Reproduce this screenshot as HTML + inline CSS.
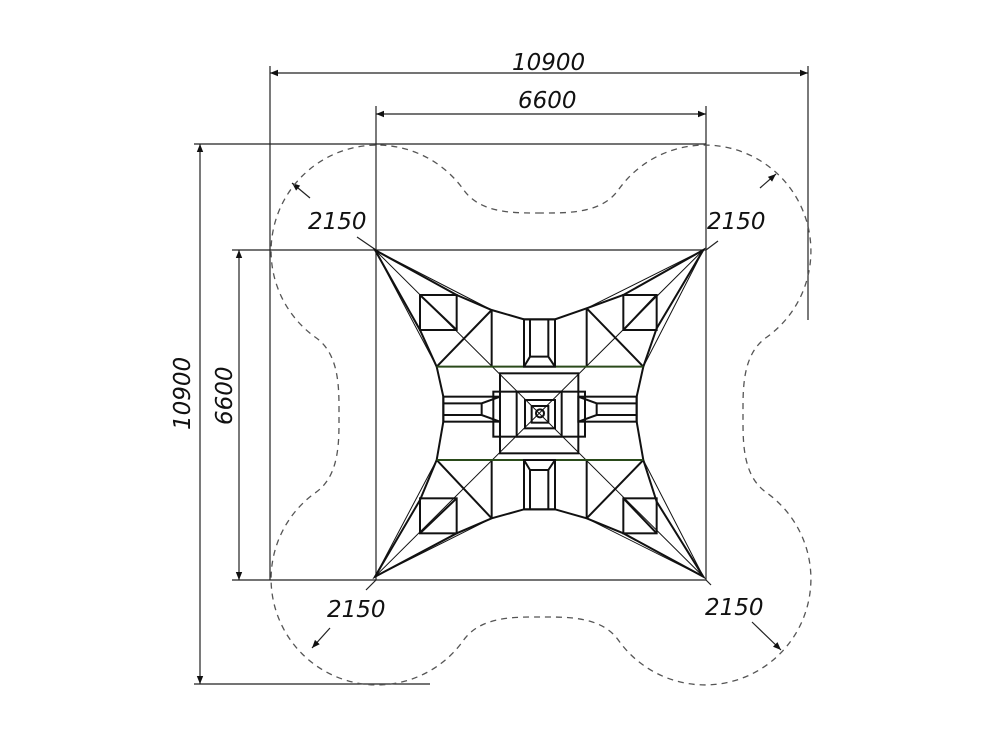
<!DOCTYPE html>
<html><head><meta charset="utf-8"><style>
html,body{margin:0;padding:0;background:#fff}
svg{display:block}
text{font-family:"DejaVu Sans","Liberation Sans",sans-serif;font-style:italic;font-size:23px;fill:#111}
</style></head><body>
<svg width="1000" height="750" viewBox="0 0 1000 750" xmlns="http://www.w3.org/2000/svg">
<defs>
<marker id="a" viewBox="0 0 10 10" refX="10" refY="5" markerWidth="12" markerHeight="8" orient="auto-start-reverse" markerUnits="userSpaceOnUse">
<path d="M0,1 L10,5 L0,9 Z" fill="#111"/></marker>
</defs>
<g stroke="#222" stroke-width="1.2" fill="none">
<!-- extension lines -->
<line x1="270" y1="66" x2="270" y2="580"/>
<line x1="808" y1="66" x2="808" y2="320"/>
<line x1="376" y1="106" x2="376" y2="580"/>
<line x1="706" y1="106" x2="706" y2="580"/>
<line x1="194" y1="144" x2="706" y2="144"/>
<line x1="194" y1="684" x2="430" y2="684"/>
<line x1="232" y1="250" x2="706" y2="250"/>
<line x1="232" y1="580" x2="706" y2="580"/>
<!-- dim lines -->
<line x1="270" y1="73" x2="808" y2="73" marker-start="url(#a)" marker-end="url(#a)"/>
<line x1="376" y1="114" x2="706" y2="114" marker-start="url(#a)" marker-end="url(#a)"/>
<line x1="200" y1="144" x2="200" y2="684" marker-start="url(#a)" marker-end="url(#a)"/>
<line x1="239" y1="250" x2="239" y2="580" marker-start="url(#a)" marker-end="url(#a)"/>
<!-- radius leaders -->
<line x1="310" y1="198" x2="292" y2="183" marker-end="url(#a)"/>
<line x1="376" y1="250" x2="357" y2="237"/>
<line x1="760" y1="188" x2="776" y2="174" marker-end="url(#a)"/>
<line x1="706" y1="250" x2="718" y2="241"/>
<line x1="330" y1="628" x2="312" y2="648" marker-end="url(#a)"/>
<line x1="376" y1="580" x2="366" y2="590"/>
<line x1="752" y1="622" x2="781" y2="650" marker-end="url(#a)"/>
<line x1="706" y1="580" x2="711" y2="585"/>
</g>
<!-- dashed outline -->
<path d="M541,213 C515,213 480,214 463,189 A106,106 0 1 0 315,337 C340,354 339,389 339,415 C339,441 340,476 315,493 A106,106 0 1 0 463,641 C480,616 515,617 541,617 C567,617 602,616 619,641 A106,106 0 1 0 767,493 C742,476 743,441 743,415 C743,389 742,354 767,337 A106,106 0 1 0 619,189 C602,214 567,213 541,213 Z" fill="none" stroke="#555" stroke-width="1.3" stroke-dasharray="6,5"/>
<!-- star structure -->
<g transform="translate(370,240) scale(0.33333)" fill="none" stroke="#111" stroke-width="6">
<path d="M15,30 L260,165 L365,210 L462,238 L555,238 L650,205 L760,165 L1000,30 L860,265 L820,380 L800,470 L800,545 L820,660 L860,785 L1000,1010 L760,880 L650,835 L555,808 L462,808 L365,835 L260,880 L15,1010 L150,780 L200,660 L220,545 L220,470 L200,380 L150,270 Z"/>
<g stroke-width="3">
<line x1="15" y1="30" x2="1000" y2="1010"/><line x1="1000" y1="30" x2="15" y2="1010"/>
<line x1="15" y1="30" x2="200" y2="380"/><line x1="15" y1="30" x2="365" y2="210"/>
<line x1="1000" y1="30" x2="820" y2="380"/><line x1="1000" y1="30" x2="650" y2="205"/>
<line x1="15" y1="1010" x2="200" y2="660"/><line x1="15" y1="1010" x2="365" y2="835"/>
<line x1="1000" y1="1010" x2="820" y2="660"/><line x1="1000" y1="1010" x2="650" y2="835"/>
</g>
<!-- corner squares -->
<rect x="150" y="165" width="110" height="105"/><line x1="150" y1="165" x2="260" y2="270"/>
<rect x="760" y="165" width="100" height="105"/><line x1="760" y1="270" x2="860" y2="165"/>
<rect x="150" y="775" width="110" height="105"/><line x1="150" y1="880" x2="260" y2="775"/>
<rect x="760" y="775" width="100" height="105"/><line x1="760" y1="775" x2="860" y2="880"/>
<line x1="200" y1="380" x2="365" y2="210"/><line x1="820" y1="380" x2="650" y2="205"/>
<line x1="200" y1="660" x2="365" y2="835"/><line x1="820" y1="660" x2="650" y2="835"/>
<line x1="365" y1="210" x2="365" y2="380"/><line x1="650" y1="205" x2="650" y2="380"/>
<line x1="365" y1="660" x2="365" y2="835"/><line x1="650" y1="660" x2="650" y2="835"/>
<line x1="200" y1="380" x2="820" y2="380" stroke="#2a4a1a"/>
<line x1="200" y1="660" x2="820" y2="660" stroke="#2a4a1a"/>
<!-- arms -->
<rect x="462" y="238" width="93" height="142"/><path d="M480,238 V350 L462,380 M535,238 V350 L555,380 M480,350 H535"/>
<rect x="462" y="660" width="93" height="148"/><path d="M480,808 V690 L462,660 M535,808 V690 L555,660 M480,690 H535"/>
<rect x="220" y="470" width="170" height="75"/><path d="M220,490 H335 L390,470 M220,525 H335 L390,545 M335,490 V525"/>
<rect x="625" y="470" width="175" height="75"/><path d="M800,490 H680 L625,470 M800,525 H680 L625,545 M680,490 V525"/>
<!-- center -->
<rect x="390" y="400" width="235" height="240"/>
<rect x="370" y="455" width="275" height="135"/>
<rect x="440" y="455" width="135" height="135"/>
<rect x="465" y="480" width="90" height="85"/>
<rect x="485" y="498" width="50" height="50"/>
<circle cx="510" cy="520" r="12"/>
</g>
<!-- labels -->
<text x="512" y="70">10900</text>
<text x="518" y="108">6600</text>
<text transform="translate(190,430) rotate(-90)">10900</text>
<text transform="translate(232,425) rotate(-90)">6600</text>
<text x="308" y="229">2150</text>
<text x="707" y="229">2150</text>
<text x="327" y="617">2150</text>
<text x="705" y="615">2150</text>
</svg>
</body></html>
